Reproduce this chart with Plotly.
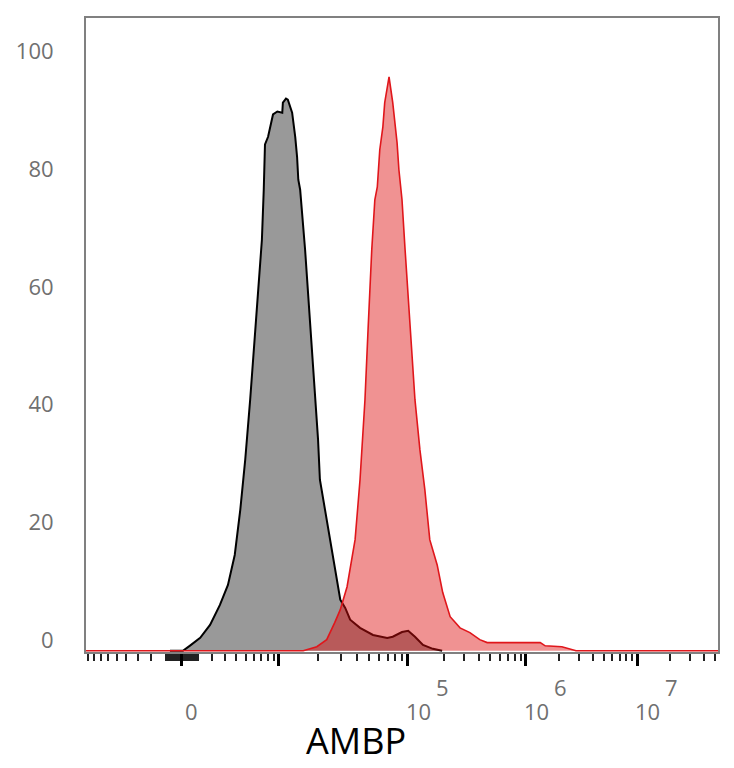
import numpy as np
import plotly.graph_objects as go

# ---------------- data (x in display channels 0..1024, y in % of max) ----------------
gray_x = [136, 157, 168, 185, 201, 217, 230, 241, 250, 258, 266, 274, 279, 285, 288, 290,
          295, 303, 310, 318, 319, 324, 327, 334, 339, 342, 344, 347, 355, 363, 371, 376,
          379, 387, 395, 403, 412, 420, 428, 444, 465, 488, 497, 512, 522, 533, 546, 562, 577]
gray_y = [0, 0, 0.85, 2.2, 4.4, 7.8, 11.2, 16.3, 24.0, 32.5, 42.7, 54.6, 61.4, 69.9, 78.4, 86.1,
          87.4, 91.2, 91.7, 91.5, 93.2, 93.9, 93.7, 91.5, 87.4, 84.0, 80.1, 78.4, 68.2, 56.3, 44.4, 35.9,
          29.1, 24.0, 18.9, 13.8, 8.7, 7.3, 5.3, 3.9, 2.7, 2.2, 2.4, 3.2, 3.4, 2.4, 1.0, 0.34, 0]

red_x = [0, 330, 352, 374, 390, 403, 412, 423, 431, 436, 444, 452, 457, 463, 468, 472, 476,
         481, 484, 491, 497, 504, 507, 512, 517, 525, 533, 541, 549, 557, 569, 578, 590, 606,
         622, 638, 650, 736, 744, 771, 794, 1024]
red_y = [0, 0, 0, 0.7, 1.9, 4.8, 7.0, 10.9, 15.5, 18.9, 29.1, 42.7, 54.6, 68.2, 76.7, 78.9, 85.2,
         89.1, 93.2, 97.6, 93.2, 86.4, 81.8, 76.7, 68.2, 54.6, 42.7, 34.2, 27.4, 18.9, 14.6, 9.9, 5.8, 3.9,
         3.1, 1.9, 1.4, 1.4, 0.85, 0.7, 0, 0]

# axis definition (biexponential display)
zero_channel = 155.5
decade_exponents = [4, 5, 6, 7]
decade_channels = [312.7, 521.7, 712.9, 892.8]
labelled_exponents = ["5", "6", "7"]
y_ticks = [0, 20, 40, 60, 80, 100]
x_title = "AMBP"

# ---------------- tick construction ----------------
W = 3333.0
pos_span = decade_channels[0] - zero_channel
neg_span = 161.0


def lin_region(v):
    s = np.arcsinh(abs(v) / W) / np.arcsinh(1e4 / W)
    return zero_channel + (pos_span if v >= 0 else -neg_span) * s


minor = []
for v in list(range(100, 1000, 100)) + list(range(1000, 10000, 1000)):
    minor.append(lin_region(v))
    minor.append(lin_region(-v))
for v in range(10, 100, 20):
    minor.append(lin_region(v))
    minor.append(lin_region(-v))
for i, c in enumerate(decade_channels):
    width = (decade_channels[i + 1] - c) if i + 1 < len(decade_channels) else (c - decade_channels[i - 1])
    for m in range(2, 10):
        p = c + np.log10(m) * width
        if p < 1024:
            minor.append(p)
minor = [float(p) for p in minor if 0 <= p <= 1024]

major = [zero_channel] + decade_channels

# ---------------- figure ----------------
fig = go.Figure()
fig.add_trace(go.Scatter(
    x=gray_x, y=gray_y, mode="lines", fill="tozeroy",
    fillcolor="#999999", line=dict(color="#000000", width=2),
    hoverinfo="skip", showlegend=False))
fig.add_trace(go.Scatter(
    x=red_x, y=red_y, mode="lines", fill="tozeroy",
    fillcolor="rgba(222,14,14,0.45)", line=dict(color="#e0161b", width=1.6),
    hoverinfo="skip", showlegend=False))

lab_font = dict(family="Open Sans", size=22, color="#707070")
ann = [dict(x=zero_channel, xref="x", y=0, yref="paper", yanchor="middle",
            xanchor="center", xshift=10, yshift=-59, text="0", showarrow=False, font=lab_font)]
for c, e in zip(decade_channels[1:], labelled_exponents):
    ann.append(dict(x=c, xref="x", y=0, yref="paper", yanchor="middle", xanchor="left",
                    xshift=-4, yshift=-59, text="10", showarrow=False, font=lab_font))
    ann.append(dict(x=c, xref="x", y=0, yref="paper", yanchor="middle", xanchor="left",
                    xshift=26, yshift=-35, text=e, showarrow=False, font=lab_font))
ann.append(dict(x=0.428, xref="paper", y=0, yref="paper", yanchor="bottom", xanchor="center",
                yshift=-115, text=x_title, showarrow=False,
                font=dict(family="Open Sans", size=36, color="#000000")))

fig.update_layout(
    width=734, height=768,
    margin=dict(l=86, r=16, t=18, b=116),
    paper_bgcolor="white", plot_bgcolor="white",
    annotations=ann,
    xaxis=dict(
        range=[0, 1024], showgrid=False, zeroline=False,
        showline=True, mirror=True, linecolor="#808080", linewidth=2,
        tickmode="array", tickvals=major, ticktext=["" for _ in major],
        ticks="outside", ticklen=12, tickwidth=3, tickcolor="#000000",
        minor=dict(tickmode="array", tickvals=minor, ticks="outside",
                   ticklen=7, tickwidth=1.5, tickcolor="#222222", showgrid=False),
        automargin=False,
    ),
    yaxis=dict(
        range=[-0.2, 107.6], showgrid=False, zeroline=False,
        showline=True, mirror=True, linecolor="#808080", linewidth=2,
        tickmode="array", tickvals=y_ticks, ticks="",
        tickfont=lab_font, ticklabelstandoff=26, ticklabelshift=-11,
        automargin=False,
    ),
)

fig.write_html("out.html")
